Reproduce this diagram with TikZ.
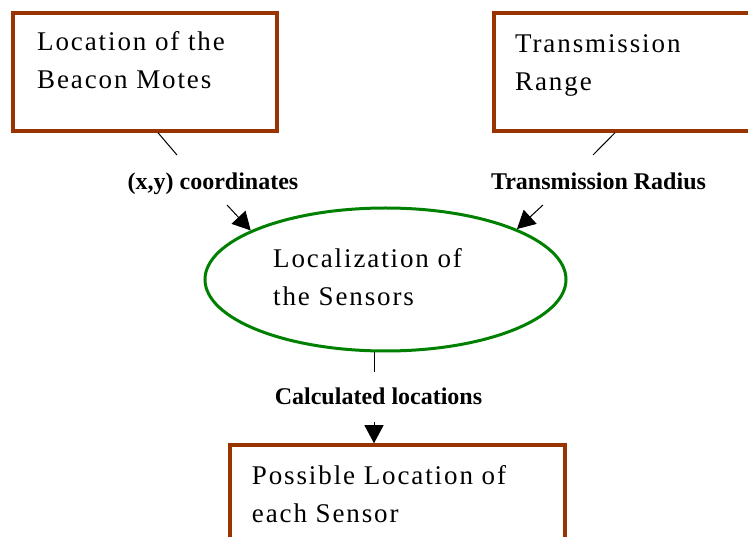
\documentclass[tikz,border=0pt]{standalone}
\usepackage{fontspec}
\setmainfont{Liberation Serif}
\newfontfamily\boxfont[LetterSpace=7]{Liberation Serif}
\usetikzlibrary{shapes.geometric,arrows.meta}
\definecolor{boxbrown}{RGB}{153,51,0}
\definecolor{ellgreen}{RGB}{0,128,0}
\begin{document}
\begin{tikzpicture}[x=1pt,y=-1pt,
 boxnode/.style={draw=boxbrown, line width=3.5pt, rectangle, inner sep=0pt},
 ellnode/.style={draw=ellgreen, line width=3pt, ellipse, inner sep=0pt},
 boxtext/.style={anchor=north west, inner sep=0pt, align=left, font=\boxfont\fontsize{27}{38}\selectfont},
 lbl/.style={anchor=base, inner sep=0pt, font=\bfseries\fontsize{24}{28}\selectfont},
 conn/.style={draw=black, line width=1pt},
 arr/.style={conn, -{Triangle[length=18pt,width=19pt]}}]
\useasboundingbox (0,0) rectangle (748,537);
% boxes
\node[boxnode, minimum width=264pt, minimum height=118pt] (b1) at (145,72) {};
\node[boxnode, minimum width=306pt, minimum height=118pt] (b2) at (647,72) {};
\node[boxnode, minimum width=335pt, minimum height=155pt] (b3) at (397.5,522.5) {};
\node[ellnode, minimum width=361pt, minimum height=143pt] (ell) at (385.5,279.5) {};
% texts
\node[boxtext] (t1) at (37,31.6) {Location of the\\Beacon Motes};
\node[boxtext] (t2) at (515,34.6) {Transmission\\Range};
\node[boxtext] (t3) at (273,248.3) {Localization of\\the Sensors};
\node[boxtext] (t4) at (251.7,465.6) {Possible Location of\\each Sensor};
% labels
\node[lbl] (lab1) at (213,190) {(x,y) coordinates};
\node[lbl] (lab2) at (598.5,190) {Transmission Radius};
\node[lbl] (lab3) at (378.5,405) {Calculated locations};
% connectors
\coordinate (p1) at (177,155);
\coordinate (q1) at (227,205);
\draw[conn] ([xshift=13pt]b1.south) -- (p1);
\draw[arr] (q1) -- (ell.160);
\coordinate (p2) at (593,155);
\coordinate (q2) at (543,205);
\draw[conn] ([xshift=-32pt]b2.south) -- (p2);
\draw[arr] (q2) -- (ell.21);
\coordinate (tick) at ([xshift=-11.5pt]ell.south);
\draw[conn] (tick) -- ([yshift=-20pt]tick);
\draw[arr] ([yshift=-70pt]tick) -- (b3.north -| tick);
\end{tikzpicture}
\end{document}
